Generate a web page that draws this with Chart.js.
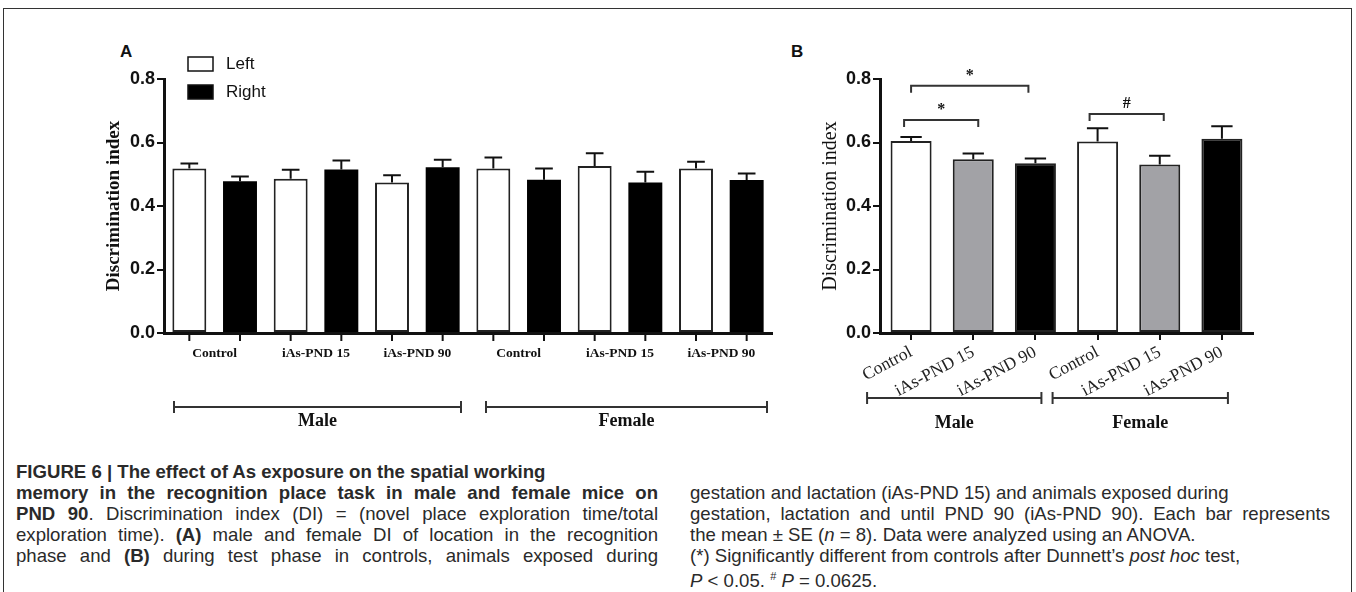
<!DOCTYPE html>
<html>
<head>
<meta charset="utf-8">
<script src="https://cdn.jsdelivr.net/npm/chart.js@4.4.1/dist/chart.umd.min.js"></script>
<style>
  html, body { margin: 0; padding: 0; background: #fff; }
  body { width: 1356px; height: 592px; position: relative; overflow: hidden;
         font-family: "Liberation Sans", Arial, sans-serif; color: #222; }
  #frame { position: absolute; left: 3px; top: 8px; width: 1349px; height: 700px;
           border: 1.5px solid #333; box-sizing: border-box; }
  canvas { position: absolute; top: 0; }
  #chartA { left: 0; }
  #chartB { left: 790px; }
  .panel { position: absolute; font: bold 17px "Liberation Sans", Arial, sans-serif; color: #111; }
  .line { position: absolute; font-size: 18.6px; line-height: 21px; height: 21px; color: #2a2a2a;
          white-space: nowrap; }
  .j { text-align: justify; text-align-last: justify; }
</style>
</head>
<body>
<div id="frame"></div>
<div class="panel" style="left:120px;top:42px;">A</div>
<div class="panel" style="left:791px;top:42px;">B</div>
<canvas id="chartA" width="790" height="440"></canvas>
<canvas id="chartB" width="566" height="440"></canvas>

<div class="line" style="left:16px;top:461px;"><b>FIGURE 6 | The effect of As exposure on the spatial working</b></div>
<div class="line j" style="left:16px;top:482px;width:642px;"><b>memory in the recognition place task in male and female mice on</b></div>
<div class="line j" style="left:16px;top:503px;width:642px;"><b>PND 90</b>. Discrimination index (DI) = (novel place exploration time/total</div>
<div class="line j" style="left:16px;top:524px;width:642px;">exploration time). <b>(A)</b> male and female DI of location in the recognition</div>
<div class="line j" style="left:16px;top:545px;width:642px;">phase and <b>(B)</b> during test phase in controls, animals exposed during</div>

<div class="line" style="left:690px;top:482px;">gestation and lactation (iAs-PND 15) and animals exposed during</div>
<div class="line j" style="left:690px;top:503px;width:640px;">gestation, lactation and until PND 90 (iAs-PND 90). Each bar represents</div>
<div class="line" style="left:690px;top:524px;">the mean ± SE (<i>n</i> = 8). Data were analyzed using an ANOVA.</div>
<div class="line" style="left:690px;top:545px;">(*) Significantly different from controls after Dunnett’s <i>post hoc</i> test,</div>
<div class="line" style="left:690px;top:566px;"><i>P</i> &lt; 0.05. <sup style="font-size:11px;">#</sup> <i>P</i> = 0.0625.</div>

<script>
// panel A: recognition phase, left vs right location
const groupsA = ["Control", "iAs-PND 15", "iAs-PND 90", "Control", "iAs-PND 15", "iAs-PND 90"];
const leftMean = [0.518, 0.486, 0.474, 0.518, 0.526, 0.518];
const leftSE = [0.016, 0.028, 0.023, 0.035, 0.040, 0.021];
const rightMean = [0.478, 0.515, 0.522, 0.483, 0.474, 0.482];
const rightSE = [0.015, 0.028, 0.024, 0.035, 0.034, 0.020];

// panel B: test phase
const groupsB = ["Control", "iAs-PND 15", "iAs-PND 90", "Control", "iAs-PND 15", "iAs-PND 90"];
const meanB = [0.605, 0.547, 0.535, 0.603, 0.531, 0.612];
const seB = [0.012, 0.018, 0.015, 0.042, 0.027, 0.039];

const sexes = ["Male", "Female"];
const yTicks = [0, 0.2, 0.4, 0.6, 0.8];

// significance marks in B: bars compared, bracket height, symbol
const sigFrom = [0, 0, 3];
const sigTo = [2, 1, 4];
const sigLevel = [0.779, 0.671, 0.69];
const sigMark = ["*", "*", "#"];

const serif = '"Liberation Serif", "Times New Roman", serif';
const sans = '"Liberation Sans", Arial, sans-serif';
const ink = "#111";

function yAxis(titleFont, width) {
  return {
    min: 0,
    max: 0.8,
    afterFit: (s) => { s.width = width; },
    afterBuildTicks: (s) => { s.ticks = yTicks.map((v) => ({ value: v })); },
    border: { color: ink, width: 3 },
    grid: { drawOnChartArea: false, drawTicks: true, tickLength: 7, color: ink, lineWidth: 2 },
    ticks: {
      color: ink,
      padding: 2,
      font: { family: sans, size: 18, weight: "bold" },
      callback: (v) => Number(v).toFixed(1),
    },
    title: {
      display: true,
      text: "Discrimination index",
      color: ink,
      padding: { top: 0, bottom: 0 },
      font: titleFont,
    },
  };
}

function errorBars(ctx, chart, key) {
  const y = chart.scales.y;
  ctx.save();
  ctx.strokeStyle = ink;
  ctx.lineWidth = 2;
  chart.data.datasets.forEach((ds, di) => {
    chart.getDatasetMeta(di).data.forEach((bar, i) => {
      const top = y.getPixelForValue(ds.data[i] + ds[key][i]);
      const cap = bar.width * 0.26;
      ctx.beginPath();
      ctx.moveTo(bar.x, bar.y);
      ctx.lineTo(bar.x, top);
      ctx.moveTo(bar.x - cap, top);
      ctx.lineTo(bar.x + cap, top);
      ctx.stroke();
    });
  });
  ctx.restore();
}

function rangeBracket(ctx, x1, x2, y, text, textY) {
  ctx.save();
  ctx.strokeStyle = "#333";
  ctx.lineWidth = 2;
  ctx.beginPath();
  ctx.moveTo(x1, y); ctx.lineTo(x2, y);
  ctx.moveTo(x1, y - 6); ctx.lineTo(x1, y + 6);
  ctx.moveTo(x2, y - 6); ctx.lineTo(x2, y + 6);
  ctx.stroke();
  ctx.fillStyle = ink;
  ctx.font = "bold 18px " + serif;
  ctx.textAlign = "center";
  ctx.textBaseline = "middle";
  ctx.fillText(text, (x1 + x2) / 2, textY);
  ctx.restore();
}

const extrasA = {
  id: "extrasA",
  afterDatasetsDraw(chart) {
    const ctx = chart.ctx;
    const x = chart.scales.x;
    const bottom = chart.chartArea.bottom;
    errorBars(ctx, chart, "se");

    // tick marks under each bar
    ctx.save();
    ctx.strokeStyle = ink;
    ctx.lineWidth = 2;
    chart.data.datasets.forEach((ds, di) => {
      chart.getDatasetMeta(di).data.forEach((bar) => {
        ctx.beginPath();
        ctx.moveTo(bar.x, bottom);
        ctx.lineTo(bar.x, bottom + 8);
        ctx.stroke();
      });
    });
    ctx.restore();

    // legend
    ctx.save();
    chart.data.datasets.forEach((ds, di) => {
      const top = 57 + di * 28;
      ctx.fillStyle = ds.backgroundColor;
      ctx.fillRect(188, top, 25, 14);
      ctx.strokeStyle = ink;
      ctx.lineWidth = 1.5;
      ctx.strokeRect(188, top, 25, 14);
      ctx.fillStyle = ink;
      ctx.font = "17px " + sans;
      ctx.textBaseline = "middle";
      ctx.fillText(ds.label, 226, top + 7);
    });
    ctx.restore();

    // Male / Female ranges
    const cw = x.width / groupsA.length;
    rangeBracket(ctx, x.getPixelForValue(0) - cw / 2 + 10, x.getPixelForValue(2) + cw / 2 - 7, 407, sexes[0], 421);
    rangeBracket(ctx, x.getPixelForValue(3) - cw / 2 + 18, x.getPixelForValue(5) + cw / 2 - 5, 407, sexes[1], 421);
  },
};

const sigInset = [[0, -7], [-7, 5], [-8, 4]];

const extrasB = {
  id: "extrasB",
  afterDatasetsDraw(chart) {
    const ctx = chart.ctx;
    const x = chart.scales.x;
    const y = chart.scales.y;
    errorBars(ctx, chart, "se");

    ctx.save();
    ctx.strokeStyle = "#333";
    ctx.lineWidth = 2;
    sigFrom.forEach((f, k) => {
      const x1 = x.getPixelForValue(f) + sigInset[k][0];
      const x2 = x.getPixelForValue(sigTo[k]) + sigInset[k][1];
      const yy = y.getPixelForValue(sigLevel[k]);
      ctx.beginPath();
      ctx.moveTo(x1, yy + 7); ctx.lineTo(x1, yy); ctx.lineTo(x2, yy); ctx.lineTo(x2, yy + 7);
      ctx.stroke();
      ctx.fillStyle = ink;
      ctx.font = "bold 16px " + serif;
      ctx.textAlign = "center";
      ctx.textBaseline = "middle";
      ctx.fillText(sigMark[k], (x1 + x2) / 2, yy - 10);
    });
    ctx.restore();

    rangeBracket(ctx, x.getPixelForValue(0) - 44, x.getPixelForValue(2) + 6, 398, sexes[0], 423);
    rangeBracket(ctx, x.getPixelForValue(3) - 45, x.getPixelForValue(5) + 6, 398, sexes[1], 423);
  },
};

new Chart(document.getElementById("chartA"), {
  type: "bar",
  data: {
    labels: groupsA,
    datasets: [
      { label: "Left", data: leftMean, se: leftSE, backgroundColor: "#ffffff",
        borderColor: "#222", borderWidth: 2, borderSkipped: false },
      { label: "Right", data: rightMean, se: rightSE, backgroundColor: "#000000",
        borderColor: "#000", borderWidth: 0 },
    ],
  },
  options: {
    responsive: false,
    animation: false,
    layout: { padding: { left: 103, right: 18, top: 79, bottom: 0 } },
    datasets: { bar: { categoryPercentage: 1.0, barPercentage: 0.67 } },
    plugins: { legend: { display: false }, tooltip: { enabled: false } },
    scales: {
      x: {
        afterFit: (s) => { s.height = 107; },
        border: { color: ink, width: 3 },
        grid: { display: false, drawTicks: false },
        ticks: { color: ink, padding: 12, font: { family: serif, size: 13.5, weight: "bold" } },
      },
      y: yAxis({ family: serif, size: 19, weight: "bold" }, 61),
    },
  },
  plugins: [extrasA],
});

new Chart(document.getElementById("chartB"), {
  type: "bar",
  data: {
    labels: groupsB,
    datasets: [
      { label: "Discrimination index", data: meanB, se: seB,
        backgroundColor: ["#ffffff", "#a2a2a6", "#000000", "#ffffff", "#a2a2a6", "#000000"],
        borderColor: "#222", borderWidth: 2, borderSkipped: false },
    ],
  },
  options: {
    responsive: false,
    animation: false,
    layout: { padding: { left: 29, right: 103, top: 79, bottom: 0 } },
    datasets: { bar: { categoryPercentage: 1.0, barPercentage: 0.66 } },
    plugins: { legend: { display: false }, tooltip: { enabled: false } },
    scales: {
      x: {
        afterFit: (s) => { s.height = 107; },
        border: { color: ink, width: 3 },
        grid: { drawOnChartArea: false, drawTicks: true, tickLength: 7, offset: false, color: ink, lineWidth: 2 },
        ticks: { color: "#222", padding: 2, autoSkip: false, minRotation: 28, maxRotation: 28,
                 font: { family: serif, size: 17.5 } },
      },
      y: yAxis({ family: serif, size: 20 }, 61),
    },
  },
  plugins: [extrasB],
});
</script>
</body>
</html>
